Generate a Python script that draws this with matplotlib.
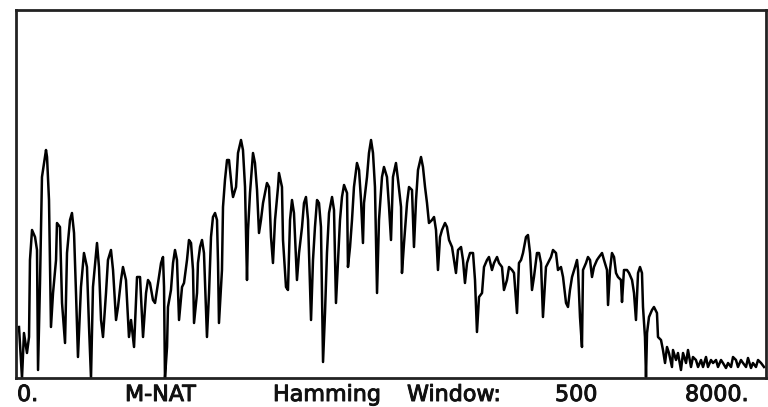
import matplotlib
matplotlib.use('Agg')
import matplotlib.pyplot as plt
import matplotlib.patheffects as pe

# Espectro: frecuencia (Hz) y nivel (unidades arbitrarias)
frecuencia = [32, 64, 85, 117, 139, 149, 171, 203, 224, 235, 256, 277, 320, 331, 352, 373, 395, 427, 437, 469,
              491, 523, 544, 576, 597, 619, 640, 661, 693, 725, 757, 779, 800, 821, 864, 885, 907, 928, 960, 981,
              1013, 1035, 1067, 1088, 1120, 1141, 1173, 1205, 1227, 1259, 1291, 1323, 1355, 1387, 1408, 1429, 1461, 1483, 1515, 1547,
              1568, 1579, 1589, 1611, 1621, 1653, 1675, 1696, 1717, 1739, 1771, 1792, 1824, 1845, 1867, 1888, 1899, 1931, 1941, 1963,
              1984, 2005, 2037, 2059, 2080, 2101, 2123, 2144, 2155, 2165, 2197, 2208, 2229, 2251, 2272, 2304, 2315, 2347, 2368, 2400,
              2421, 2443, 2464, 2475, 2496, 2528, 2549, 2571, 2592, 2613, 2635, 2677, 2699, 2720, 2741, 2763, 2795, 2805, 2837, 2848,
              2880, 2901, 2923, 2944, 2965, 2997, 3019, 3051, 3072, 3093, 3115, 3147, 3168, 3189, 3211, 3232, 3253, 3275, 3296, 3317,
              3339, 3371, 3392, 3413, 3435, 3456, 3477, 3499, 3531, 3541, 3563, 3584, 3605, 3637, 3659, 3680, 3701, 3712, 3744, 3765,
              3787, 3808, 3829, 3851, 3872, 3904, 3925, 3957, 3979, 4000, 4021, 4053, 4075, 4107, 4117, 4139, 4171, 4192, 4224, 4245,
              4267, 4288, 4320, 4341, 4363, 4384, 4405, 4437, 4459, 4480, 4501, 4523, 4544, 4576, 4597, 4619, 4651, 4672, 4693, 4715,
              4747, 4768, 4789, 4811, 4843, 4875, 4896, 4917, 4939, 4971, 4992, 5024, 5045, 5077, 5099, 5131, 5152, 5184, 5205, 5237,
              5259, 5291, 5312, 5344, 5365, 5387, 5408, 5440, 5461, 5483, 5504, 5525, 5557, 5579, 5600, 5621, 5653, 5675, 5707, 5728,
              5760, 5781, 5813, 5835, 5867, 5888, 5909, 5931, 5963, 5984, 5995, 6016, 6037, 6048, 6080, 6101, 6123, 6144, 6165, 6197,
              6219, 6251, 6272, 6304, 6315, 6336, 6357, 6379, 6400, 6421, 6453, 6464, 6485, 6517, 6539, 6571, 6592, 6613, 6635, 6656,
              6677, 6688, 6709, 6720, 6731, 6752, 6784, 6805, 6837, 6848, 6880, 6901, 6923, 6944, 6965, 6997, 7008, 7040, 7061, 7093,
              7115, 7147, 7168, 7200, 7221, 7253, 7275, 7307, 7328, 7360, 7381, 7413, 7435, 7467, 7488, 7520, 7541, 7573, 7595, 7627,
              7648, 7680, 7701, 7733, 7755, 7787, 7808, 7840, 7861, 7893, 7915, 7947, 7979]
nivel = [51, 0, 45, 25, 41, 118, 148, 141, 128, 8, 95, 201, 228, 221, 178, 51, 85, 118, 155, 151,
         75, 35, 125, 158, 165, 145, 85, 21, 91, 125, 111, 51, 0, 91, 135, 111, 58, 41, 85, 118,
         128, 108, 58, 71, 98, 111, 98, 41, 58, 31, 101, 101, 41, 85, 98, 95, 78, 75, 95, 115,
         121, 91, 0, 31, 71, 88, 115, 128, 118, 58, 91, 95, 118, 138, 135, 108, 55, 85, 115, 131,
         138, 125, 41, 85, 141, 161, 165, 158, 115, 55, 108, 171, 198, 218, 218, 188, 181, 191, 225, 238,
         228, 191, 98, 148, 185, 225, 215, 188, 145, 158, 175, 195, 191, 141, 115, 158, 191, 205, 191, 138,
         91, 88, 158, 178, 165, 98, 125, 151, 175, 181, 158, 58, 118, 151, 178, 175, 151, 16, 65, 125,
         165, 181, 168, 75, 118, 158, 181, 193, 185, 111, 131, 158, 191, 215, 208, 178, 135, 175, 201, 225,
         238, 225, 191, 85, 158, 201, 211, 201, 171, 138, 201, 215, 198, 171, 105, 135, 175, 191, 188, 131,
         178, 208, 221, 211, 191, 175, 155, 158, 161, 148, 108, 141, 148, 155, 151, 138, 131, 118, 105, 128,
         131, 118, 95, 115, 125, 125, 98, 46, 81, 85, 111, 118, 121, 108, 115, 121, 115, 111, 88, 98,
         111, 108, 105, 65, 115, 118, 125, 141, 143, 125, 88, 101, 125, 125, 115, 61, 111, 115, 121, 128,
         125, 108, 111, 101, 75, 71, 88, 101, 111, 118, 108, 61, 31, 108, 115, 121, 118, 101, 111, 118,
         121, 125, 118, 108, 73, 108, 125, 121, 105, 101, 98, 76, 108, 108, 105, 98, 85, 58, 105, 111,
         105, 71, 41, 1, 45, 61, 68, 71, 65, 41, 38, 28, 15, 31, 25, 11, 28, 18, 25, 8,
         25, 15, 28, 11, 21, 18, 11, 18, 11, 21, 11, 18, 15, 18, 11, 18, 15, 10, 15, 11,
         21, 18, 11, 18, 15, 11, 20, 10, 15, 11, 18, 15, 11]

# Rotulos inferiores: texto y borde izquierdo en pixeles
rotulos = ['0.', 'M-NAT', 'Hamming', 'Window:', '500', '8000.']
rotulos_x = [17, 125, 273, 407, 555, 685]

fig = plt.figure(figsize=(7.68, 4.07), dpi=100)
ax = fig.add_axes([16 / 768, 29 / 407, 750 / 768, 368 / 407])
ax.plot(frecuencia, nivel, color='black', linewidth=1.8)
ax.set_xlim(0, 8000)
ax.set_ylim(0, 368)
ax.set_xticks([])
ax.set_yticks([])
for s in ax.spines.values():
    s.set_linewidth(2)
    s.set_color('#222222')

for txt, xp in zip(rotulos, rotulos_x):
    fig.text(xp / 768, 6 / 407, txt, fontsize=16, va='baseline', ha='left', color='#111111',
             path_effects=[pe.withStroke(linewidth=0.7, foreground='#111111')])

fig.savefig('out.png', dpi=100)
